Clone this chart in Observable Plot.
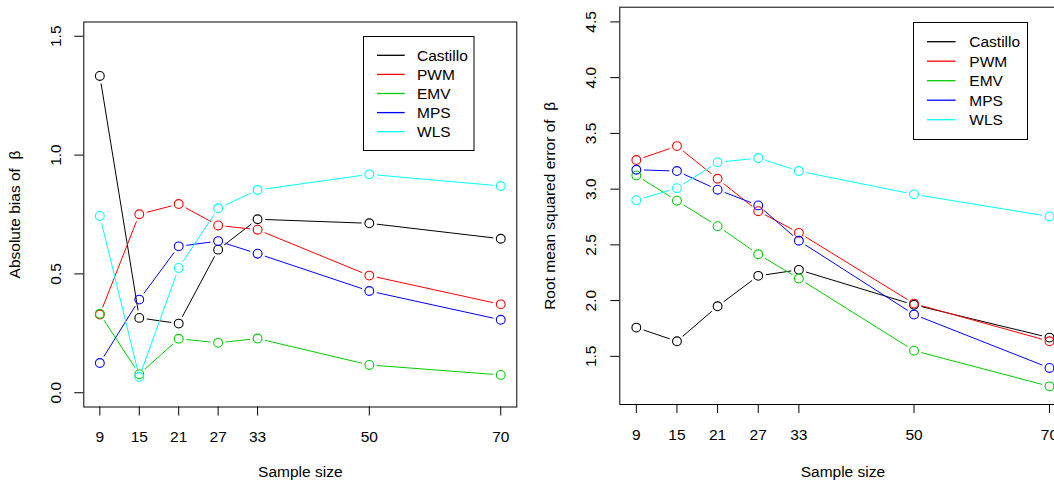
<!DOCTYPE html>
<html><head><meta charset="utf-8">
<script src="https://cdn.jsdelivr.net/npm/d3@7"></script>
<script src="https://cdn.jsdelivr.net/npm/@observablehq/plot@0.6"></script>
<style>
body{margin:0;background:#fff;}
#wrap{position:relative;width:1054px;height:481px;overflow:hidden;font-family:"Liberation Sans",Arial,sans-serif;}
#wrap > *{position:absolute;}
</style></head><body><div id="wrap"></div>
<script>
const sampleSizes = [9, 15, 21, 27, 33, 50, 70];
const methods = ["Castillo", "PWM", "EMV", "MPS", "WLS"];
const colors = ["#000000", "#ff0000", "#00cd00", "#0000ff", "#00ffff"];

// Absolute bias of beta
const biasCastillo = [1.333, 0.315, 0.291, 0.602, 0.730, 0.713, 0.648];
const biasPWM      = [0.329, 0.751, 0.794, 0.704, 0.686, 0.493, 0.372];
const biasEMV      = [0.332, 0.078, 0.227, 0.210, 0.228, 0.117, 0.075];
const biasMPS      = [0.125, 0.392, 0.616, 0.638, 0.585, 0.428, 0.307];
const biasWLS      = [0.744, 0.066, 0.525, 0.776, 0.853, 0.919, 0.870];

// Root mean squared error of beta
const rmseCastillo = [1.758, 1.635, 1.949, 2.222, 2.276, 1.962, 1.668];
const rmsePWM      = [3.261, 3.386, 3.093, 2.802, 2.608, 1.973, 1.635];
const rmseEMV      = [3.123, 2.896, 2.668, 2.416, 2.198, 1.551, 1.231];
const rmseMPS      = [3.174, 3.162, 2.995, 2.854, 2.537, 1.875, 1.396];
const rmseWLS      = [2.901, 3.009, 3.240, 3.279, 3.162, 2.953, 2.755];

const biasYTicks = [0, 0.5, 1.0, 1.5];
const rmseYTicks = [1.5, 2.0, 2.5, 3.0, 3.5, 4.0, 4.5];

const biasSeries = [biasCastillo, biasPWM, biasEMV, biasMPS, biasWLS];
const rmseSeries = [rmseCastillo, rmsePWM, rmseEMV, rmseMPS, rmseWLS];

const FONT = '"Liberation Sans", Arial, sans-serif';
const FS = 15.5;

function toRows(series) {
  const rows = [];
  series.forEach((vals, i) => vals.forEach((v, j) => rows.push({method: methods[i], n: sampleSizes[j], v})));
  return rows;
}
function toSegs(series) {
  const segs = [];
  series.forEach((vals, i) => {
    for (let j = 0; j < vals.length - 1; j++)
      segs.push({method: methods[i], n1: sampleSizes[j], v1: vals[j], n2: sampleSizes[j + 1], v2: vals[j + 1]});
  });
  return segs;
}

function panel({series, yDomain, yTicks, yLabel, width, height, margins, tickDx, titleDx, xTitleDy}) {
  return Plot.plot({
    width, height, ...margins,
    style: {fontFamily: FONT, fontSize: FS + "px", background: "transparent", color: "#000", overflow: "visible"},
    x: {type: "linear", domain: [6.56, 72.44]},
    y: {domain: yDomain},
    color: {domain: methods, range: colors},
    marks: [
      Plot.frame({stroke: "#000", strokeWidth: 1}),
      Plot.axisX({ticks: sampleSizes, tickSize: 9, tickPadding: 15, label: null, fontSize: FS, stroke: "#000"}),
      Plot.axisY({ticks: yTicks, tickSize: 9, tickFormat: () => "", label: null, stroke: "#000"}),
      Plot.text(yTicks, {y: d => d, text: d => d.toFixed(1), frameAnchor: "left", textAnchor: "middle", lineAnchor: "middle", rotate: -90, dx: tickDx, fontSize: FS, fill: "#000"}),
      Plot.text([yLabel], {frameAnchor: "left", textAnchor: "middle", lineAnchor: "middle", rotate: -90, dx: titleDx, fontSize: FS, fill: "#000"}),
      Plot.text(["Sample size"], {frameAnchor: "bottom", textAnchor: "middle", lineAnchor: "middle", dy: xTitleDy, fontSize: FS, fill: "#000"}),
      Plot.arrow(toSegs(series), {x1: "n1", y1: "v1", x2: "n2", y2: "v2", stroke: "method", headLength: 0, insetStart: 8, insetEnd: 8, strokeWidth: 1, bend: 0}),
      Plot.dot(toRows(series), {x: "n", y: "v", stroke: "method", r: 4.4, strokeWidth: 1.1})
    ]
  });
}

function legend({left, top, w, h, rowTop, step, lx1, lx2, tx}) {
  const svg = d3.create("svg").attr("width", w + 2).attr("height", h + 2)
    .style("left", left + "px").style("top", top + "px").style("position", "absolute");
  svg.append("rect").attr("x", 0.5).attr("y", 0.5).attr("width", w).attr("height", h)
    .attr("fill", "#fff").attr("stroke", "#000").attr("stroke-width", 1);
  methods.forEach((m, i) => {
    const y = rowTop + i * step;
    svg.append("line").attr("x1", lx1).attr("x2", lx2).attr("y1", y).attr("y2", y)
      .attr("stroke", colors[i]).attr("stroke-width", 1.3);
    svg.append("text").attr("x", tx).attr("y", y).attr("dy", "0.36em")
      .attr("font-family", FONT).attr("font-size", FS).attr("fill", "#000").text(m);
  });
  return svg.node();
}

const wrap = document.getElementById("wrap");

const left = panel({
  series: biasSeries, yDomain: [-0.06, 1.56], yTicks: biasYTicks,
  yLabel: "Absolute bias of  β",
  width: 530, height: 481,
  margins: {marginLeft: 83.3, marginRight: 13.7, marginTop: 21.5, marginBottom: 74.5},
  tickDx: -28, titleDx: -68.3, xTitleDy: 65.3
});
left.style.left = "0px"; left.style.top = "0px";
wrap.appendChild(left);

const right = panel({
  series: rmseSeries, yDomain: [1.068, 4.632], yTicks: rmseYTicks,
  yLabel: "Root mean squared error of  β",
  width: 540, height: 481,
  margins: {marginLeft: 89.3, marginRight: 4.5, marginTop: 6.7, marginBottom: 77},
  tickDx: -28.3, titleDx: -69.3, xTitleDy: 67.7
});
right.style.left = "530px"; right.style.top = "0px";
wrap.appendChild(right);

wrap.appendChild(legend({left: 363, top: 36, w: 110.5, h: 114, rowTop: 19.3, step: 19.1, lx1: 14, lx2: 41.7, tx: 54}));
wrap.appendChild(legend({left: 913, top: 22, w: 114, h: 117, rowTop: 19.7, step: 19.5, lx1: 14, lx2: 42.6, tx: 56.3}));
</script>
</body></html>
